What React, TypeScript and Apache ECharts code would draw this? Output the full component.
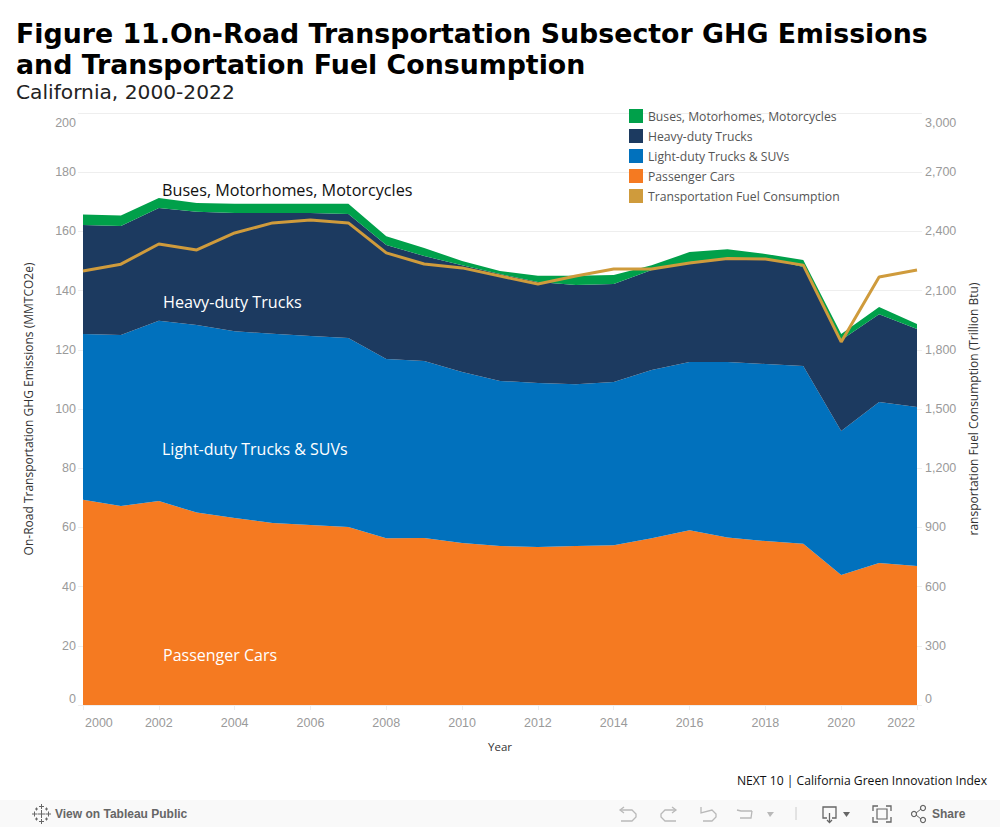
import React, { useEffect, useRef } from "react";
import * as echarts from "echarts";

const years = ["2000", "2001", "2002", "2003", "2004", "2005", "2006", "2007", "2008", "2009", "2010", "2011", "2012", "2013", "2014", "2015", "2016", "2017", "2018", "2019", "2020", "2021", "2022"];
const passengerCars = [69.3, 67.2, 68.9, 65.0, 63.2, 61.5, 60.8, 60.1, 56.3, 56.4, 54.7, 53.7, 53.4, 53.7, 54.0, 56.3, 59.0, 56.6, 55.4, 54.5, 43.9, 48.0, 47.0];
const lightDuty = [56.0, 57.8, 60.9, 63.4, 63.1, 63.9, 63.9, 63.9, 60.6, 59.8, 57.8, 55.8, 55.4, 54.7, 55.1, 56.9, 56.9, 59.3, 59.8, 60.0, 48.7, 54.4, 53.7];
const heavyDuty = [36.9, 36.8, 38.1, 38.2, 39.9, 40.8, 41.5, 41.9, 38.5, 35.5, 36.1, 36.1, 34.1, 33.5, 33.1, 33.8, 33.8, 35.1, 35.8, 33.5, 30.7, 29.6, 26.3];
const buses = [3.5, 3.6, 3.4, 3.0, 3.1, 3.1, 3.1, 3.4, 3.0, 2.7, 1.4, 1.0, 2.1, 3.1, 3.1, 1.6, 3.3, 3.0, 1.4, 2.3, 2.0, 2.5, 1.7];
const fuel = [2199, 2234, 2336, 2306, 2392, 2443, 2458, 2443, 2291, 2235, 2215, 2174, 2133, 2174, 2209, 2209, 2240, 2263, 2260, 2229, 1840, 2169, 2204];

const BODY = '"Open Sans", "Noto Sans", sans-serif';
const TICK = '"Liberation Sans", Arial, sans-serif';
const TITLE = '"DejaVu Sans", Verdana, sans-serif';

const areaSeries = (name: string, color: string, values: number[]) => ({
  name,
  type: "line",
  stack: "emissions",
  data: values,
  showSymbol: false,
  symbol: "none",
  lineStyle: { width: 0, color },
  itemStyle: { color },
  areaStyle: { color, opacity: 1 },
  z: 2,
});

const label = (text: string, x: number, y: number, fill: string, font: string, size: number, extra: any = {}) => ({
  type: "text",
  x,
  y,
  z: 20,
  style: { text, fill, fontFamily: font, fontSize: size, verticalAlign: "middle", ...extra },
});

const gray = "#9a9a9a";
const icon = "#b9b9b9";
const dark = "#666666";

const poly = (points: number[][], stroke: string, lineWidth = 1.3) => ({
  type: "polyline",
  z: 21,
  shape: { points },
  style: { stroke, fill: "none", lineWidth },
});

const plus = (cx: number, cy: number, r: number) => [
  poly([[cx - r, cy], [cx + r, cy]], dark, 1),
  poly([[cx, cy - r], [cx, cy + r]], dark, 1),
];

const tickStyle = { color: gray, fontFamily: TICK, fontSize: 12.5 };
const leftFormatter = (v: number) => (v === 200 ? `{top|${v}}` : String(v));
const rightFormatter = (v: number) => {
  const s = v.toLocaleString("en-US");
  return v === 3000 ? `{top|${s}}` : s;
};

export default function App() {
  const ref = useRef<HTMLDivElement>(null);
  useEffect(() => {
    document.body.style.margin = "0";
    const chart = echarts.init(ref.current!, undefined, { renderer: "svg" });
    chart.setOption({
      animation: false,
      backgroundColor: "#ffffff",
      grid: { left: 83, right: 83, top: 113, bottom: 122 },
      legend: {
        left: 629,
        top: 109,
        orient: "vertical",
        icon: "rect",
        itemWidth: 14,
        itemHeight: 14,
        itemGap: 6,
        z: 15,
        textStyle: { color: "#555555", fontFamily: BODY, fontSize: 12.2 },
        padding: 0,
        data: ["Buses, Motorhomes, Motorcycles", "Heavy-duty Trucks", "Light-duty Trucks & SUVs", "Passenger Cars", "Transportation Fuel Consumption"],
      },
      xAxis: {
        type: "category",
        boundaryGap: false,
        data: years,
        name: "Year",
        nameLocation: "middle",
        nameGap: 35,
        nameTextStyle: { color: "#333333", fontFamily: BODY, fontSize: 11.5 },
        axisLine: { show: false },
        axisTick: { show: true, length: 5, interval: 1, alignWithLabel: true, lineStyle: { color: "#eeeeee" } },
        splitLine: { show: false },
        axisLabel: {
          ...tickStyle,
          interval: 1,
          margin: 11,
          alignMinLabel: "left",
          alignMaxLabel: "right",
          padding: [0, 2, 0, 2],
        },
      },
      yAxis: [
        {
          type: "value",
          min: 0,
          max: 200,
          interval: 20,
          name: "On-Road Transportation GHG Emissions (MMTCO2e)",
          nameLocation: "middle",
          nameGap: 49,
          nameTextStyle: { color: "#333333", fontFamily: BODY, fontSize: 12 },
          axisLine: { show: false },
          axisTick: { show: true, length: 5, lineStyle: { color: "#eeeeee" } },
          splitLine: { show: true, lineStyle: { color: "#eeeeee", width: 1 } },
          axisLabel: {
            ...tickStyle,
            margin: 7,
            verticalAlignMinLabel: "bottom",
            verticalAlignMaxLabel: "top",
            formatter: leftFormatter,
            rich: { top: { ...tickStyle, padding: [3, 0, 0, 0] } },
          },
        },
        {
          type: "value",
          min: 0,
          max: 3000,
          interval: 300,
          position: "right",
          name: "ransportation Fuel Consumption (Trillion Btu)",
          nameLocation: "middle",
          nameGap: 49,
          nameTextStyle: { color: "#333333", fontFamily: BODY, fontSize: 12 },
          axisLine: { show: false },
          axisTick: { show: true, length: 5, lineStyle: { color: "#eeeeee" } },
          splitLine: { show: false },
          axisLabel: {
            ...tickStyle,
            margin: 8,
            verticalAlignMinLabel: "bottom",
            verticalAlignMaxLabel: "top",
            formatter: rightFormatter,
            rich: { top: { ...tickStyle, padding: [3, 0, 0, 0] } },
          },
        },
      ],
      series: [
        areaSeries("Passenger Cars", "#f57a21", passengerCars),
        areaSeries("Light-duty Trucks & SUVs", "#0171bd", lightDuty),
        areaSeries("Heavy-duty Trucks", "#1c3a60", heavyDuty),
        areaSeries("Buses, Motorhomes, Motorcycles", "#00a04a", buses),
        {
          name: "Transportation Fuel Consumption",
          type: "line",
          yAxisIndex: 1,
          data: fuel,
          showSymbol: false,
          symbol: "none",
          lineStyle: { width: 3, color: "#cf9b3c" },
          itemStyle: { color: "#cf9b3c" },
          z: 5,
        },
      ],
      graphic: [
        label("Figure 11.On-Road Transportation Subsector GHG Emissions", 16, 33, "#000000", TITLE, 26.8, { fontWeight: "bold" }),
        label("and Transportation Fuel Consumption", 16, 64, "#000000", TITLE, 26.8, { fontWeight: "bold" }),
        label("California, 2000-2022", 16, 92, "#222222", TITLE, 20.2),
        label("Buses, Motorhomes, Motorcycles", 162, 190, "#111111", BODY, 16.2),
        label("Heavy-duty Trucks", 163, 302, "#ffffff", BODY, 16.2),
        label("Light-duty Trucks & SUVs", 162, 449, "#ffffff", BODY, 16),
        label("Passenger Cars", 163, 655, "#ffffff", BODY, 16),
        label("NEXT 10 | California Green Innovation Index", 987, 780, "#111111", BODY, 12.15, { align: "right" }),
        { type: "rect", z: 19, shape: { x: 0, y: 800, width: 1000, height: 27 }, style: { fill: "#f9f9f9" } },
        label("View on Tableau Public", 55, 814, dark, TICK, 12, { fontWeight: "bold" }),
        label("Share", 932, 814, dark, TICK, 12, { fontWeight: "bold" }),
        ...plus(41.5, 814, 4),
        ...plus(41.5, 806.5, 2.5),
        ...plus(41.5, 821.5, 2.5),
        ...plus(34.5, 814, 2.5),
        ...plus(48.5, 814, 2.5),
        ...plus(36.5, 809, 1.5),
        ...plus(46.5, 809, 1.5),
        ...plus(36.5, 819, 1.5),
        ...plus(46.5, 819, 1.5),
        poly([[621, 810], [632, 810], [636, 814], [636, 817], [632, 821], [621, 821]], icon),
        poly([[624, 807], [620, 810], [624, 813]], icon),
        poly([[676, 810], [665, 810], [661, 814], [661, 817], [665, 821], [676, 821]], icon),
        poly([[672, 807], [676, 810], [672, 813]], icon),
        poly([[701, 807], [701, 813], [712, 810], [716, 814], [716, 817], [712, 821], [703, 821]], icon),
        poly([[737, 810], [741, 811], [752, 811]], icon),
        poly([[740, 818], [751, 818], [752, 811]], icon),
        { type: "polygon", z: 21, shape: { points: [[767, 812], [774, 812], [770, 817]] }, style: { fill: icon } },
        poly([[796, 807], [796, 820]], "#cccccc", 1),
        poly([[827, 818], [823, 818], [823, 807], [836, 807], [836, 818], [832, 818]], dark),
        poly([[829.5, 813], [829.5, 822]], dark),
        poly([[827, 820], [829.5, 822.5], [832, 820]], dark),
        { type: "polygon", z: 21, shape: { points: [[843, 812], [850, 812], [846.5, 817]] }, style: { fill: dark } },
        { type: "rect", z: 21, shape: { x: 877, y: 809, width: 10, height: 10 }, style: { stroke: dark, fill: "none", lineWidth: 1.2 } },
        poly([[873, 811], [873, 806], [878, 806]], dark),
        poly([[886, 806], [891, 806], [891, 811]], dark),
        poly([[891, 817], [891, 822], [886, 822]], dark),
        poly([[878, 822], [873, 822], [873, 817]], dark),
        { type: "circle", z: 21, shape: { cx: 914, cy: 814, r: 2.5 }, style: { stroke: dark, fill: "none", lineWidth: 1.2 } },
        { type: "circle", z: 21, shape: { cx: 923, cy: 808, r: 2.5 }, style: { stroke: dark, fill: "none", lineWidth: 1.2 } },
        { type: "circle", z: 21, shape: { cx: 923, cy: 820, r: 2.5 }, style: { stroke: dark, fill: "none", lineWidth: 1.2 } },
        poly([[921, 809], [916, 813]], dark, 1),
        poly([[921, 819], [916, 815]], dark, 1),
      ],
    });
    return () => chart.dispose();
  }, []);
  return <div ref={ref} style={{ width: 1000, height: 827, display: "block" }} />;
}
